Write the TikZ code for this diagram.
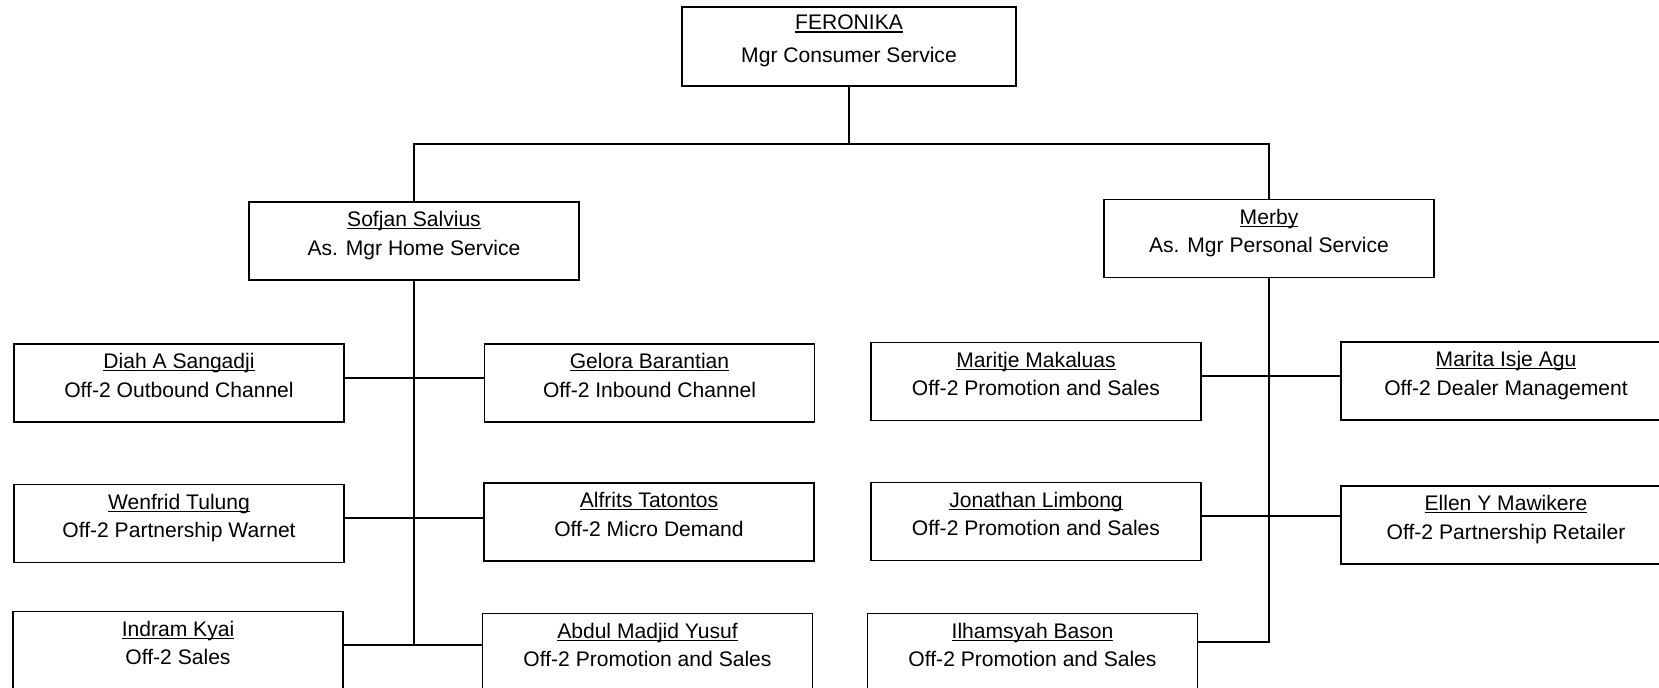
\documentclass[tikz,border=0pt]{standalone}
\usepackage{fontspec}
\setmainfont{Liberation Sans}
\newsavebox{\namabox}
\newcommand{\nama}[1]{\sbox\namabox{#1}\rlap{\rule[-1.5pt]{\wd\namabox}{0.7pt}}\usebox\namabox}
\newcommand{\jab}[2]{\nama{#1}\\#2\rule[-8.7pt]{0pt}{8.7pt}}

\begin{document}
\begin{tikzpicture}[x=0.02cm, y=-0.02cm, line width=0.75pt,
  kotak/.style={draw, rectangle, align=center, inner sep=0pt,
    minimum width=6.6cm, minimum height=1.56cm,
    font=\fontsize{12}{16.3}\selectfont}]

\useasboundingbox (0,0) rectangle (1659,688);

% Manajer
\node[kotak, minimum width=6.68cm, minimum height=1.58cm, font=\fontsize{12}{18.6}\selectfont] (fer) at (849,46.5) {\jab{FERONIKA}{Mgr Consumer Service}};

% Asisten manajer
\node[kotak] (sofjan) at (414,241) {\jab{Sofjan Salvius}{As. Mgr Home Service}};
\node[kotak] (merby) at (1269,238.5) {\jab{Merby}{As. Mgr Personal Service}};

% Staf home service
\node[kotak] (diah) at (179,383) {\jab{Diah A Sangadji}{Off-2 Outbound Channel}};
\node[kotak] (gelora) at (649.5,383) {\jab{Gelora Barantian}{Off-2 Inbound Channel}};
\node[kotak] (wenfrid) at (179,523.5) {\jab{Wenfrid Tulung}{Off-2 Partnership Warnet}};
\node[kotak] (alfrits) at (649,522) {\jab{Alfrits Tatontos}{Off-2 Micro Demand}};
\node[kotak] (indram) at (178,650.5) {\jab{Indram Kyai}{Off-2 Sales}};
\node[kotak] (abdul) at (647.5,652.5) {\jab{Abdul Madjid Yusuf}{Off-2 Promotion and Sales}};

% Staf personal service
\node[kotak] (maritje) at (1036,381.5) {\jab{Maritje Makaluas}{Off-2 Promotion and Sales}};
\node[kotak] (jonathan) at (1036,521.5) {\jab{Jonathan Limbong}{Off-2 Promotion and Sales}};
\node[kotak] (ilham) at (1032.5,652.5) {\jab{Ilhamsyah Bason}{Off-2 Promotion and Sales}};
\node[kotak] (marita) at (1506,381) {\jab{Marita Isje Agu}{Off-2 Dealer Management}};
\node[kotak] (ellen) at (1506,525) {\jab{Ellen Y Mawikere}{Off-2 Partnership Retailer}};

% Garis atas
\coordinate (bus) at (849,144);
\draw (fer.south) -- (bus);
\draw (sofjan.north) |- (bus) -| (merby.north);

% Garis bawahan
\coordinate (a1) at (414,378);
\coordinate (a2) at (414,518);
\coordinate (a3) at (414,645);
\coordinate (b1) at (1269,376);
\coordinate (b2) at (1269,516);
\coordinate (b3) at (1269,642);
\draw (sofjan.south) -- (a3);
\draw (merby.south) -- (b3) -- (ilham.east |- b3);
\foreach \p/\q/\r in {diah/gelora/a1, wenfrid/alfrits/a2, indram/abdul/a3, maritje/marita/b1, jonathan/ellen/b2}
	\draw (\p.east |- \r) -- (\q.west |- \r);

\end{tikzpicture}
\end{document}
